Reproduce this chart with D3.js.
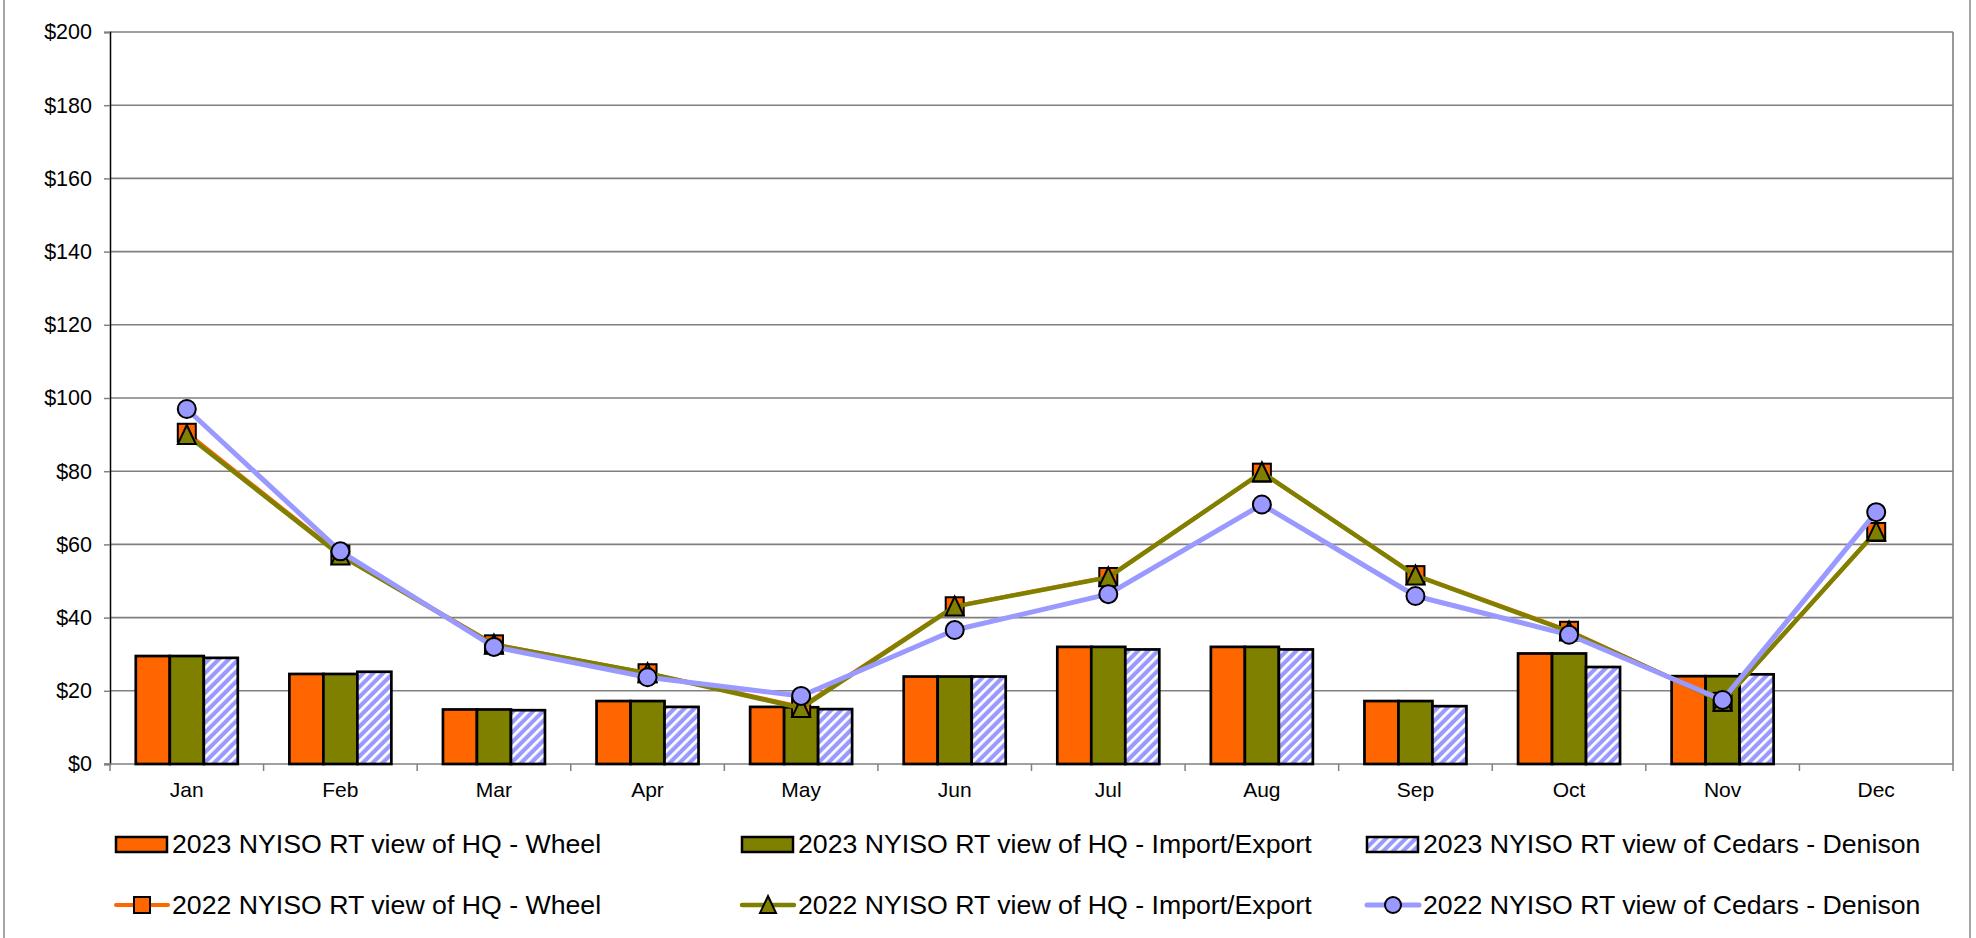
<!DOCTYPE html>
<html>
<head>
<meta charset="utf-8">
<script src="https://cdn.jsdelivr.net/npm/d3@7"></script>
<style>
html,body{margin:0;padding:0;background:#fff;}
svg{display:block;}
text{font-family:"Liberation Sans",Arial,sans-serif;fill:#000;}
</style>
</head>
<body>
<svg id="chart" width="1976" height="938"></svg>
<script>
const months = ["Jan","Feb","Mar","Apr","May","Jun","Jul","Aug","Sep","Oct","Nov","Dec"];
const yTicks = [0,20,40,60,80,100,120,140,160,180,200];

const wheel2023   = [29.5, 24.6, 14.9, 17.2, 15.6, 23.9, 32.0, 32.0, 17.2, 30.2, 24.0, null];
const ie2023      = [29.5, 24.6, 14.9, 17.2, 15.5, 23.9, 32.0, 32.0, 17.2, 30.2, 24.0, null];
const cedars2023  = [29.0, 25.2, 14.7, 15.6, 15.0, 23.9, 31.3, 31.3, 15.8, 26.5, 24.5, null];

const wheel2022   = [90.5, 57.2, 32.7, 24.8, 15.6, 43.1, 51.1, 79.6, 51.6, 36.4, 17.0, 63.4];
const ie2022      = [89.9, 57.0, 32.6, 24.8, 15.3, 43.0, 51.0, 79.7, 51.5, 36.2, 17.0, 63.5];
const cedars2022  = [97.0, 58.1, 32.0, 23.7, 18.6, 36.6, 46.4, 70.9, 45.9, 35.3, 17.5, 68.8];

const barSeries = [
  {name:"2023 NYISO RT view of HQ - Wheel", values:wheel2023, fill:"#FF6600"},
  {name:"2023 NYISO RT view of HQ - Import/Export", values:ie2023, fill:"#808000"},
  {name:"2023 NYISO RT view of Cedars - Denison", values:cedars2023, fill:"url(#hatch)"}
];
const lineSeries = [
  {name:"2022 NYISO RT view of HQ - Wheel", values:wheel2022, color:"#FF6600", marker:"square", width:4},
  {name:"2022 NYISO RT view of HQ - Import/Export", values:ie2022, color:"#808000", marker:"triangle", width:4.5},
  {name:"2022 NYISO RT view of Cedars - Denison", values:cedars2022, color:"#9999FF", marker:"circle", width:5}
];

const svg = d3.select("#chart");
const L = 110, R = 1953, T = 32, B = 764;

const defs = svg.append("defs");
const pat = defs.append("pattern").attr("id","hatch").attr("patternUnits","userSpaceOnUse")
  .attr("width",7).attr("height",7).attr("patternTransform","rotate(45)");
pat.append("rect").attr("width",7).attr("height",7).attr("fill","#9999FF");
pat.append("rect").attr("x",0).attr("width",2.8).attr("height",7).attr("fill","#fff");

// outer border
svg.append("line").attr("x1",4).attr("x2",4).attr("y1",0).attr("y2",938).attr("stroke","#888").attr("stroke-width",1.5);
svg.append("line").attr("x1",1970).attr("x2",1970).attr("y1",0).attr("y2",938).attr("stroke","#888").attr("stroke-width",1.5);

const x = d3.scaleBand().domain(months).range([L,R]).paddingInner(0).paddingOuter(0);
const y = d3.scaleLinear().domain([0,200]).range([B,T]);

// gridlines
svg.append("g").selectAll("line").data(yTicks.filter(d=>d>0)).join("line")
  .attr("x1",L).attr("x2",R).attr("y1",d=>y(d)).attr("y2",d=>y(d))
  .attr("stroke","#808080").attr("stroke-width",1.6);
// right border of plot
svg.append("line").attr("x1",R).attr("x2",R).attr("y1",T).attr("y2",B).attr("stroke","#808080").attr("stroke-width",1.6);

// y axis
const yAxis = d3.axisLeft(y).tickValues(yTicks).tickSize(6).tickPadding(12).tickFormat(d=>"$"+d);
const gy = svg.append("g").attr("transform",`translate(${L},0)`).call(yAxis);
gy.select(".domain").attr("stroke","#000").attr("stroke-width",1.5);
gy.selectAll(".tick line").attr("stroke","#808080").attr("stroke-width",1.5);
gy.selectAll(".tick text").style("font-size","21.5px").attr("font-family","Liberation Sans, Arial, sans-serif").attr("fill","#000");

// x axis baseline + ticks at boundaries
svg.append("line").attr("x1",L-6).attr("x2",R).attr("y1",B).attr("y2",B).attr("stroke","#808080").attr("stroke-width",1.6);
const bounds = months.map(m=>x(m)).concat([R]);
svg.append("g").selectAll("line").data(bounds).join("line")
  .attr("x1",d=>d).attr("x2",d=>d).attr("y1",B).attr("y2",B+7)
  .attr("stroke","#808080").attr("stroke-width",1.5);
svg.append("g").selectAll("text").data(months).join("text")
  .attr("x",d=>x(d)+x.bandwidth()/2).attr("y",797)
  .attr("text-anchor","middle").style("font-size","21px").text(d=>d);

// bars
const inner = d3.scaleBand().domain(barSeries.map(s=>s.name)).range([0,102]);
const groupOff = (x.bandwidth()-102)/2;
barSeries.forEach(s=>{
  svg.append("g").selectAll("rect").data(months.map((m,i)=>({m,v:s.values[i]})).filter(d=>d.v!=null)).join("rect")
    .attr("x",d=>x(d.m)+groupOff+inner(s.name))
    .attr("y",d=>y(d.v))
    .attr("width",inner.bandwidth())
    .attr("height",d=>y(0)-y(d.v))
    .attr("fill",s.fill).attr("stroke","#000").attr("stroke-width",2.7);
});

// markers
function drawMarker(g, type, cx, cy, color, size){
  const h = size/2;
  if(type==="square"){
    g.append("rect").attr("x",cx-h).attr("y",cy-h).attr("width",size).attr("height",size)
      .attr("fill",color).attr("stroke","#000").attr("stroke-width",2);
  } else if(type==="triangle"){
    g.append("path").attr("d",`M${cx},${cy-h-1}L${cx+h},${cy+h}L${cx-h},${cy+h}Z`)
      .attr("fill",color).attr("stroke","#000").attr("stroke-width",2).attr("stroke-linejoin","miter");
  } else {
    g.append("circle").attr("cx",cx).attr("cy",cy).attr("r",h)
      .attr("fill",color).attr("stroke","#000").attr("stroke-width",2);
  }
}

const line = d3.line().x(d=>x(d.m)+x.bandwidth()/2).y(d=>y(d.v));
lineSeries.forEach(s=>{
  const pts = months.map((m,i)=>({m,v:s.values[i]}));
  const g = svg.append("g");
  g.append("path").datum(pts).attr("d",line).attr("fill","none")
    .attr("stroke",s.color).attr("stroke-width",s.width).attr("stroke-linejoin","round");
  pts.forEach(p=>drawMarker(g, s.marker, x(p.m)+x.bandwidth()/2, y(p.v), s.color, 18));
});

// legend
const colX = [116, 742, 1367];
const legend = svg.append("g");
barSeries.forEach((s,i)=>{
  const g = legend.append("g");
  g.append("rect").attr("x",colX[i]).attr("y",837).attr("width",51).attr("height",15)
    .attr("fill",s.fill).attr("stroke","#000").attr("stroke-width",2.5);
  g.append("text").attr("x",colX[i]+56).attr("y",853).style("font-size","26.7px").text(s.name);
});
lineSeries.forEach((s,i)=>{
  const g = legend.append("g");
  g.append("line").attr("x1",colX[i]).attr("x2",colX[i]+52).attr("y1",905).attr("y2",905)
    .attr("stroke",s.color).attr("stroke-width",s.width).attr("stroke-linecap","round");
  drawMarker(g, s.marker, colX[i]+26, 905, s.color, 16);
  g.append("text").attr("x",colX[i]+56).attr("y",914).style("font-size","26.7px").text(s.name);
});
</script>
</body>
</html>
